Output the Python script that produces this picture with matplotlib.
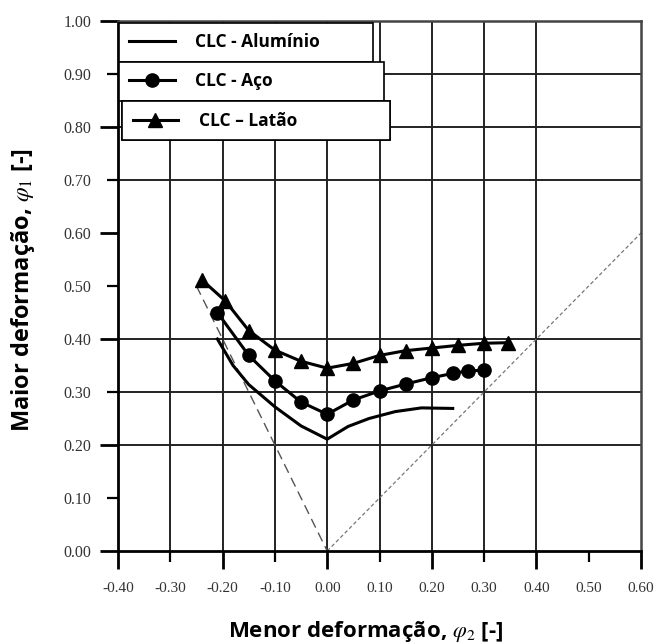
import matplotlib
matplotlib.use("Agg")
import matplotlib.pyplot as plt
from matplotlib.ticker import MultipleLocator, FormatStrFormatter

# Curva limite de conformação (CLC)
al_x = [-0.21, -0.18, -0.15, -0.10, -0.05, 0.00, 0.04, 0.08, 0.13, 0.18, 0.24]
al_y = [0.400, 0.350, 0.314, 0.272, 0.236, 0.211, 0.235, 0.250, 0.263, 0.270, 0.269]

aco_x = [-0.21, -0.15, -0.10, -0.05, 0.00, 0.05, 0.10, 0.15, 0.20, 0.24, 0.27, 0.30]
aco_y = [0.450, 0.369, 0.321, 0.281, 0.258, 0.285, 0.302, 0.315, 0.327, 0.335, 0.340, 0.341]

lat_x = [-0.24, -0.195, -0.15, -0.10, -0.05, 0.00, 0.05, 0.10, 0.15, 0.20, 0.25, 0.30, 0.345]
lat_y = [0.512, 0.472, 0.416, 0.379, 0.358, 0.345, 0.354, 0.369, 0.378, 0.383, 0.388, 0.392, 0.393]

# linhas de referência (tração uniaxial e estiramento biaxial)
uni_x = [-0.25, 0.0]
uni_y = [0.50, 0.0]
bi_x = [0.0, 0.6]
bi_y = [0.0, 0.6]

xgrid = [-0.3, -0.2, -0.1, 0.0, 0.1, 0.2, 0.3, 0.4]
ygrid = [0.2, 0.3, 0.4, 0.7, 0.8, 0.9]

plt.rcParams['axes.unicode_minus'] = False
plt.rcParams['mathtext.fontset'] = 'stix'

fig = plt.figure(figsize=(6.54, 6.44), dpi=100)
ax = fig.add_axes([118/654, 1-551/644, 523/654, 530/644])
ax.set_xlim(-0.4, 0.6)
ax.set_ylim(0.0, 1.0)

for g in xgrid:
    ax.axvline(g, color='#222222', lw=1.4, zorder=1)
for g in ygrid:
    ax.axhline(g, color='#222222', lw=1.4, zorder=1)

ax.plot(uni_x, uni_y, color='#555555', lw=1.0, dashes=(7, 4), zorder=2)
ax.plot(bi_x, bi_y, color='#777777', lw=0.9, dashes=(3, 2), zorder=2)

l1, = ax.plot(al_x, al_y, color='black', lw=2.2, zorder=3)
l2, = ax.plot(aco_x, aco_y, color='black', lw=2.2, marker='o', ms=9.5, zorder=3)
l3, = ax.plot(lat_x, lat_y, color='black', lw=2.2, marker='^', ms=10, zorder=3)

for s in ['left', 'bottom']:
    ax.spines[s].set_linewidth(2.0)
for s in ['top', 'right']:
    ax.spines[s].set_linewidth(1.8)
    ax.spines[s].set_color('#444444')

ax.xaxis.set_major_locator(MultipleLocator(0.2))
ax.xaxis.set_minor_locator(MultipleLocator(0.1))
ax.yaxis.set_major_locator(MultipleLocator(0.2))
ax.yaxis.set_minor_locator(MultipleLocator(0.1))
fmt = FormatStrFormatter('%.2f')
ax.xaxis.set_major_formatter(fmt)
ax.xaxis.set_minor_formatter(fmt)
ax.yaxis.set_major_formatter(fmt)
ax.yaxis.set_minor_formatter(fmt)

ax.tick_params(which='major', direction='out', length=13, width=2.0, pad=6, colors='black',
               labelsize=11.5, labelcolor='#333333', labelfontfamily='Liberation Serif')
ax.tick_params(which='minor', direction='out', length=8, width=1.6, pad=11, colors='black',
               labelsize=11.5, labelcolor='#333333', labelfontfamily='Liberation Serif')
ax.tick_params(axis='x', which='major', pad=9, labelsize=11)
ax.tick_params(axis='x', which='minor', pad=14, labelsize=11)

fig.text(366/654, 1-632/644, r'Menor deformação, $\varphi_2$ [-]', ha='center', va='center',
         fontsize=16, fontweight='bold', family='Open Sans')
fig.text(23/654, 1-290/644, r'Maior deformação, $\varphi_1$ [-]', ha='center', va='center',
         rotation=90, fontsize=17, fontweight='bold', family='Open Sans')

leg_font = dict(family='Open Sans', weight='bold', size=12.5)
boxes = [(l1, 'CLC - Alumínio', (0.002, 0.923, 0.486, 0.073)),
         (l2, 'CLC - Aço', (0.002, 0.851, 0.507, 0.070)),
         (l3, 'CLC \u2013 Latão', (0.008, 0.777, 0.512, 0.070))]
for h, txt, bb in boxes:
    leg = ax.legend([h], [txt], loc='center left', bbox_to_anchor=bb, mode='expand',
                    borderaxespad=0, prop=leg_font, frameon=True, fancybox=False,
                    edgecolor='black', framealpha=1, handlelength=2.6, handletextpad=1.2,
                    borderpad=0.6, markerscale=1.0)
    leg.get_frame().set_linewidth(1.2)
    leg.set_zorder(5)
    ax.add_artist(leg)

fig.savefig('out.png', dpi=100)
